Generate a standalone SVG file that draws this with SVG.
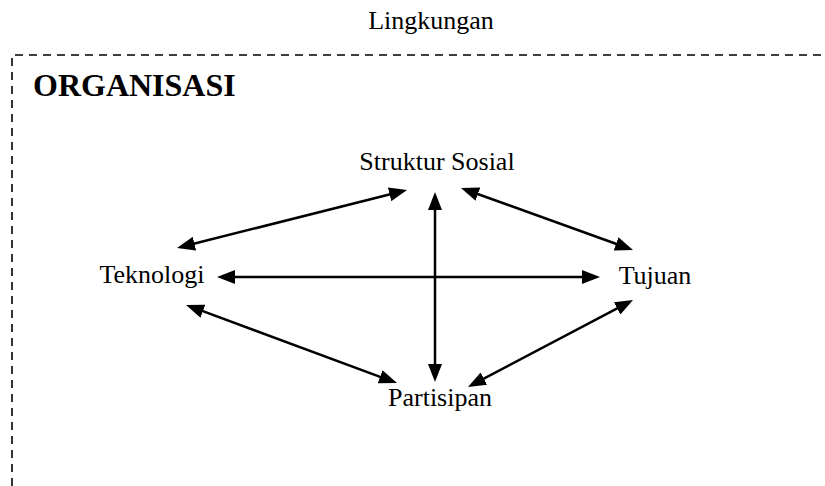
<svg xmlns="http://www.w3.org/2000/svg" width="825" height="486" viewBox="0 0 825 486">
  <style>
    .lbl { font-family: "Liberation Serif", "Times New Roman", serif; font-size: 26px; fill: #000; text-anchor: middle; }
    .title { font-family: "Liberation Serif", "Times New Roman", serif; font-size: 32px; font-weight: bold; fill: #000; }
    .border { fill: none; stroke: #000; stroke-width: 1.6; stroke-dasharray: 8 6; }
    .link { stroke: #000; stroke-width: 2.5; fill: none; marker-start: url(#head); marker-end: url(#head); }
  </style>
  <defs>
    <marker id="head" markerUnits="userSpaceOnUse" markerWidth="18" markerHeight="14" refX="13" refY="7" orient="auto-start-reverse">
      <path d="M0,0 L18,7 L0,14 z" fill="#000"/>
    </marker>
  </defs>
  <rect width="825" height="486" fill="#fff"/>

  <!-- environment boundary -->
  <g id="lingkungan">
    <text class="lbl" x="431" y="29">Lingkungan</text>
    <path class="border" d="M12,486 L12,55 L825,55"/>
  </g>

  <g id="organisasi">
    <text class="title" x="33" y="96">ORGANISASI</text>
  </g>

  <g id="struktur-sosial">
    <text class="lbl" x="437" y="170">Struktur Sosial</text>
  </g>
  <g id="teknologi">
    <text class="lbl" x="152" y="283">Teknologi</text>
  </g>
  <g id="tujuan">
    <text class="lbl" x="655" y="284">Tujuan</text>
  </g>
  <g id="partisipan">
    <text class="lbl" x="440" y="406">Partisipan</text>
  </g>

  <g id="connectors">
    <line class="link" x1="181.8" y1="246.8" x2="402.2" y2="191.2"/>
    <line class="link" x1="222" y1="277" x2="595" y2="277"/>
    <line class="link" x1="435" y1="197" x2="435" y2="377"/>
    <line class="link" x1="465.7" y1="189.7" x2="628.3" y2="248.3"/>
    <line class="link" x1="190.7" y1="306.7" x2="392.3" y2="381.3"/>
    <line class="link" x1="472.4" y1="384.7" x2="628.6" y2="302.3"/>
  </g>
</svg>
